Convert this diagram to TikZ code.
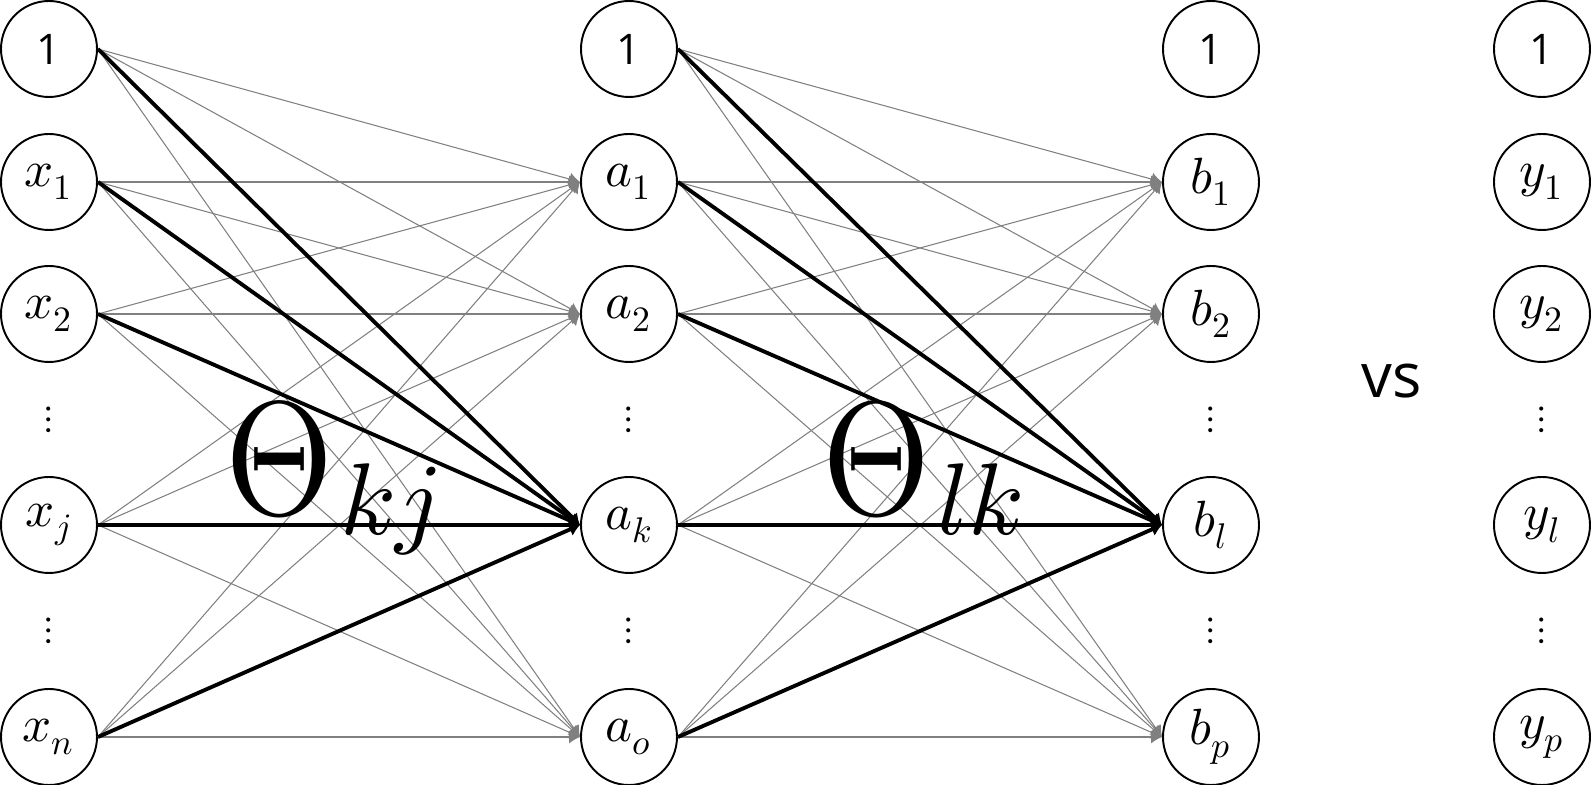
\documentclass[tikz,border=0pt]{standalone}
\usepackage{fontspec}
\usepackage{unicode-math}
\usepackage{tikz}
\usetikzlibrary{arrows.meta, positioning}
\newfontfamily\labelfont{Open Sans}
\definecolor{edgegray}{RGB}{128, 128, 128}
% big theta with a large, lowered subscript
\newcommand{\wtheta}[1]{{\fontsize{46}{50}\selectfont\scalebox{0.86}[1]{$\Theta$}}\kern2pt\raisebox{-5.5pt}{\fontsize{29}{32}\selectfont$#1$}}

\begin{document}
\begin{tikzpicture}[
    unit/.style={draw, circle, line width=0.55pt, minimum size=0.96cm, inner sep=0pt, font=\fontsize{14.5}{16}\selectfont},
    one/.style={unit, font=\labelfont\fontsize{12}{14}\selectfont},
    dots/.style={inner sep=0pt, font=\fontsize{11}{12}\selectfont},
    weak/.style={-{Latex[length=3.1pt, width=3.7pt]}, edgegray, line width=0.3pt},
    strong/.style={-{Latex[length=3.1pt, width=4pt]}, black, line width=1.1pt}
]
    \useasboundingbox (0,0) rectangle (15.92,7.85);

    % Input layer
    \node[one] (bx) at (0.49,7.36) {1};
    \node[unit] (x1) at (0.49,6.03) {$x_1$};
    \node[unit] (x2) at (0.49,4.71) {$x_2$};
    \node[dots] at (0.49,3.65) {$\vdots$};
    \node[unit] (xj) at (0.49,2.60) {$x_j$};
    \node[dots] at (0.49,1.54) {$\vdots$};
    \node[unit] (xn) at (0.49,0.48) {$x_n$};

    % Hidden layer
    \node[one] (ba) at (6.29,7.36) {1};
    \node[unit] (a1) at (6.29,6.03) {$a_1$};
    \node[unit] (a2) at (6.29,4.71) {$a_2$};
    \node[dots] at (6.29,3.65) {$\vdots$};
    \node[unit] (ak) at (6.29,2.60) {$a_k$};
    \node[dots] at (6.29,1.54) {$\vdots$};
    \node[unit] (ao) at (6.29,0.48) {$a_o$};

    % Output layer
    \node[one] (bb) at (12.11,7.36) {1};
    \node[unit] (b1) at (12.11,6.03) {$b_1$};
    \node[unit] (b2) at (12.11,4.71) {$b_2$};
    \node[dots] at (12.11,3.65) {$\vdots$};
    \node[unit] (bl) at (12.11,2.60) {$b_l$};
    \node[dots] at (12.11,1.54) {$\vdots$};
    \node[unit] (bp) at (12.11,0.48) {$b_p$};

    % Targets
    \node[one] (by) at (15.42,7.36) {1};
    \node[unit] (y1) at (15.42,6.03) {$y_1$};
    \node[unit] (y2) at (15.42,4.71) {$y_2$};
    \node[dots] at (15.42,3.65) {$\vdots$};
    \node[unit] (yl) at (15.42,2.60) {$y_l$};
    \node[dots] at (15.42,1.54) {$\vdots$};
    \node[unit] (yp) at (15.42,0.48) {$y_p$};

    % Weights
    \foreach \s in {bx,x1,x2,xj,xn}
        \foreach \t in {a1,a2,ao}
            \draw[weak] (\s.east) -- (\t.west);
    \foreach \s in {ba,a1,a2,ak,ao}
        \foreach \t in {b1,b2,bp}
            \draw[weak] (\s.east) -- (\t.west);
    \foreach \s in {bx,x1,x2,xj,xn}
        \draw[strong] (\s.east) -- (ak.west);
    \foreach \s in {ba,a1,a2,ak,ao}
        \draw[strong] (\s.east) -- (bl.west);

    % Labels
    \node[anchor=base west, inner sep=0pt] (tkj) at (2.25,2.70) {\wtheta{kj}};
    \node[anchor=base west, inner sep=0pt] (tlk) at (8.22,2.70) {\wtheta{lk}};
    \node[font=\labelfont\fontsize{17.5}{20}\selectfont] (vs) at (13.92,4.04) {vs};
\end{tikzpicture}
\end{document}
